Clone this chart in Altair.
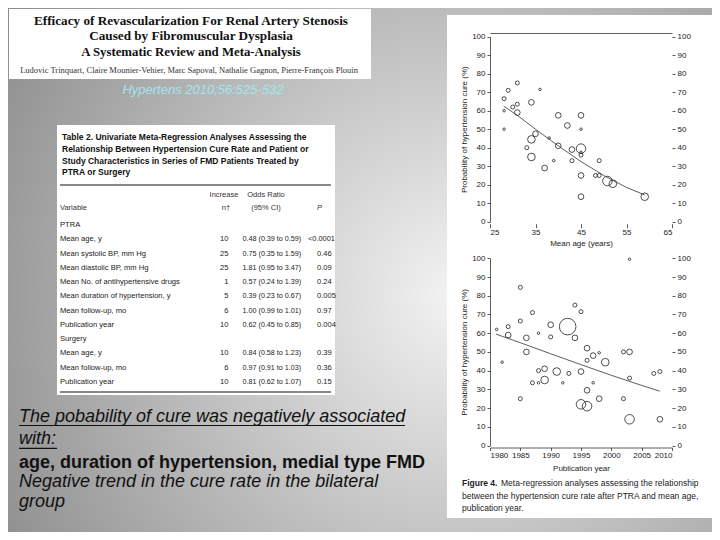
import altair as alt
import pandas as pd

W, H = 704, 524
# study weight classes (bubble area is proportional to weight)
T, S, M, L, XL, HG = 2, 5, 10, 18, 28, 85

# ---- Figure 4, top panel: mean age ----
age_x = [28.1, 29.0, 31.0, 31.0, 30.0, 28.1, 31.0, 28.1, 34.1, 36.0, 35.0, 34.1, 33.1, 34.1,
         38.0, 37.0, 39.0, 40.0, 40.0, 42.0, 43.0, 43.0, 45.0, 45.0, 45.0, 45.0, 45.0, 45.0,
         45.0, 49.0, 48.2, 49.0, 50.8, 52.0, 59.0]
age_y = [66.5, 71.0, 75.0, 63.5, 62.0, 60.0, 59.0, 50.0, 64.5, 71.5, 47.5, 44.5, 40.0, 35.0,
         45.2, 29.0, 33.0, 57.5, 41.0, 52.0, 39.0, 33.0, 57.5, 50.0, 39.5, 36.0, 37.5, 25.0,
         13.5, 33.0, 25.0, 25.0, 22.0, 20.5, 13.5]
age_w = [S, S, S, S, S, T, M, T, M, T, M, L, S, L, T, M, T, M, M, M, M, S, M, T, XL, S, T, M,
         M, S, S, S, XL, L, L]
age_line_x = [28, 31, 35, 40, 45, 50, 55, 59]
age_line_y = [62.5, 57.5, 50.0, 41.0, 32.5, 25.0, 18.5, 14.5]
age_ticks = [25, 35, 45, 55, 65]

# ---- Figure 4, bottom panel: publication year ----
yr_x = [1981.1, 1982.0, 1983.0, 1983.0, 1985.0, 1985.0, 1985.0, 1987.0, 1986.0, 1986.0, 1988.0,
        1988.0, 1989.0, 1989.0, 1987.0, 1988.0, 1990.0, 1990.0, 1991.0, 1992.0, 1993.0, 1992.8,
        1994.0, 1994.0, 1995.0, 1995.0, 1995.0, 2003.0, 1996.0, 1997.0, 1998.0, 1996.0, 1999.0,
        1997.0, 1996.0, 1996.0, 1998.0, 2002.0, 2003.0, 2003.0, 2002.0, 2003.0, 2007.0, 2008.0,
        2008.0]
yr_y = [62, 44.5, 63.5, 59, 84.5, 66.5, 25, 71, 57.5, 50, 60, 40, 41, 35, 33.5, 33.5, 64.5, 58,
        39.5, 33.5, 38.5, 63.5, 75, 57.5, 71.5, 39.5, 22, 99.5, 52, 48, 49.5, 45.5, 44.5, 33.5,
        29.5, 21, 25, 50, 50, 36, 25, 14, 38.5, 39.5, 14]
yr_w = [T, T, S, M, S, S, S, S, M, M, T, S, M, L, S, T, M, S, L, T, S, HG, S, M, S, M, XL, T, M,
        M, T, S, L, T, M, XL, M, S, M, S, S, XL, S, S, M]
yr_line_x = [1981, 1985, 1990, 1995, 2000, 2005, 2008]
yr_line_y = [59.5, 54.9, 49.0, 43.2, 37.5, 32.1, 29.0]
yr_ticks = [1980, 1985, 1990, 1995, 2000, 2005, 2010]
cure_ticks = [0, 10, 20, 30, 40, 50, 60, 70, 80, 90, 100]

# ---- Table 2 ----
tbl_var = ["PTRA", "Mean age, y", "Mean systolic BP, mm Hg", "Mean diastolic BP, mm Hg",
           "Mean No. of antihypertensive drugs", "Mean duration of hypertension, y",
           "Mean follow-up, mo", "Publication year", "Surgery", "Mean age, y",
           "Mean follow-up, mo", "Publication year"]
tbl_inc = ["", "10", "25", "25", "1", "5", "6", "10", "", "10", "6", "10"]
tbl_or = ["", "0.48 (0.39 to 0.59)", "0.75 (0.35 to 1.59)", "1.81 (0.95 to 3.47)",
          "0.57 (0.24 to 1.39)", "0.39 (0.23 to 0.67)", "1.00 (0.99 to 1.01)",
          "0.62 (0.45 to 0.85)", "", "0.84 (0.58 to 1.23)", "0.97 (0.91 to 1.03)",
          "0.81 (0.62 to 1.07)"]
tbl_p = ["", "<0.0001", "0.46", "0.09", "0.24", "0.005", "0.97", "0.004", "", "0.39", "0.36", "0.15"]
tbl_title = ["Table 2.   Univariate Meta-Regression Analyses Assessing the",
             "Relationship Between Hypertension Cure Rate and Patient or",
             "Study Characteristics in Series of FMD Patients Treated by",
             "PTRA or Surgery"]

paper_title = ["Efficacy of Revascularization For Renal Artery Stenosis",
               "Caused by Fibromuscular Dysplasia",
               "A Systematic Review and Meta-Analysis"]
authors = "Ludovic Trinquart, Claire Mounier-Vehier, Marc Sapoval, Nathalie Gagnon, Pierre-François Plouin"
citation = "Hypertens 2010;56:525-532"
bullets = ["The pobability of cure was negatively associated", "with:",
           "age, duration of hypertension, medial type FMD",
           "Negative trend in the cure rate in the bilateral", "group"]
caption = ["Meta-regression analyses assessing the relationship",
           "between the hypertension cure rate after PTRA and mean age,",
           "publication year."]

SANS = "Liberation Sans, Arial, sans-serif"
SERIF = "Liberation Serif, Times New Roman, serif"
NARROW = "Liberation Sans Narrow, Liberation Sans, sans-serif"

one = pd.DataFrame({"k": [0]})


def rect(x, x2, y, y2, **kw):
    return alt.Chart(one).mark_rect(**kw).encode(
        x=alt.value(x), x2=alt.value(x2), y=alt.value(y), y2=alt.value(y2))


def text(s, x, y, size, font=SANS, align="left", baseline="middle", color="#111", **kw):
    return alt.Chart(one).mark_text(text=s, font=font, fontSize=size, align=align,
                                    baseline=baseline, color=color, **kw).encode(
        x=alt.value(x), y=alt.value(y))


def hrule(x, x2, y, color="#111", width=1.0):
    return alt.Chart(one).mark_rule(color=color, strokeWidth=width).encode(
        x=alt.value(x), x2=alt.value(x2), y=alt.value(y))


layers = []

# slide background
grad = alt.RadialGradient(gradient="radial", x1=0.62, y1=0.53, x2=0.62, y2=0.53, r1=0, r2=0.7,
                          stops=[alt.GradientStop(offset=0, color="#f3f3f3"),
                                 alt.GradientStop(offset=1, color="#848484")])
layers.append(rect(0, W, -150, H + 150, fill=grad))

# paper title box
layers.append(rect(1, 363, 1, 71, fill="white"))
layers.append(text(paper_title[0], 183, 13, 13.2, font=SERIF, align="center", fontWeight="bold"))
layers.append(text(paper_title[1], 183, 27.5, 13.2, font=SERIF, align="center", fontWeight="bold"))
layers.append(text(paper_title[2], 183, 43.5, 12.8, font=SERIF, align="center", fontWeight="bold"))
layers.append(text(authors, 181, 62, 8.5, font=SERIF, align="center", color="#333"))
layers.append(text(citation, 195, 82, 13, align="center", fontStyle="italic", color="#a3e5f0"))

# table box
layers.append(rect(49, 327, 117, 387, fill="white"))
for i, t in enumerate(tbl_title):
    layers.append(text(t, 54, 129 + 11.8 * i, 8.5, font=NARROW, fontWeight="bold", color="#111"))
layers.append(hrule(52, 323, 177, width=1.2))
layers.append(hrule(52, 323, 384, width=1.2))
HS = 7.5
layers.append(text("Increase", 216, 187, HS, font=NARROW, align="center", color="#333"))
layers.append(text("Odds Ratio", 258, 187, HS, font=NARROW, align="center", color="#333"))
layers.append(text("Variable", 52, 200, HS, font=NARROW, color="#333"))
layers.append(text("n†", 218, 200, HS, font=NARROW, align="center", color="#333"))
layers.append(text("(95% CI)", 258, 200, HS, font=NARROW, align="center", color="#333"))
layers.append(text("P", 309, 200, HS, font=NARROW, fontStyle="italic", color="#333"))

tbl = pd.DataFrame({"row": list(range(len(tbl_var))), "var": tbl_var, "inc": tbl_inc,
                    "orci": tbl_or, "p": tbl_p})
row_scale = alt.Scale(domain=[0, len(tbl_var) - 1], range=[217, 374], nice=False, zero=False)


def col(field, x, align, size=7.6, flt=None):
    c = alt.Chart(tbl)
    if flt:
        c = c.transform_filter(flt)
    return c.mark_text(font=NARROW, fontSize=size, align=align, baseline="middle",
                       color="#222").encode(
        x=alt.value(x), y=alt.Y("row:Q", scale=row_scale, axis=None), text=alt.Text(f"{field}:N"))


layers.append(col("var", 52, "left"))
layers.append(col("inc", 220.5, "right"))
layers.append(col("orci", 234.5, "left", size=7.2))
layers.append(col("p", 309, "left", flt="indexof(datum.p, '<') != 0"))
layers.append(col("p", 300, "left", size=7.4, flt="indexof(datum.p, '<') == 0"))

# bullet text
layers.append(text(bullets[0], 11, 413.7, 18, baseline="alphabetic", fontStyle="italic"))
layers.append(hrule(11, 397, 417.5, width=1.2))
layers.append(text(bullets[1], 11, 436.3, 18, baseline="alphabetic", fontStyle="italic"))
layers.append(hrule(11, 49, 440.3, width=1.2))
layers.append(text(bullets[2], 11, 460, 18, baseline="alphabetic", fontWeight="bold"))
layers.append(text(bullets[3], 11, 478.5, 18, baseline="alphabetic", fontStyle="italic"))
layers.append(text(bullets[4], 11, 498.5, 18, baseline="alphabetic", fontStyle="italic"))

# figure panel
layers.append(rect(439, 704, 7, 510, fill="white"))
layers.append(text("Figure 4.", 454, 475, 8.5, fontWeight="bold", color="#222"))
layers.append(text(caption[0], 493, 475, 8.5, color="#222"))
layers.append(text(caption[1], 454, 487.5, 8.5, color="#222"))
layers.append(text(caption[2], 454, 500, 8.5, color="#222"))

AX = dict(labelFont=SANS, labelFontSize=8, labelColor="#222", titleFont=SANS, titleFontSize=8,
          titleFontWeight="normal", titleColor="#222", tickColor="#333", domainColor="#333",
          grid=False, tickWidth=0.8, domainWidth=0.8, zindex=1)
size_scale = alt.Scale(domain=[0, 85], range=[0, 276])
PT = dict(shape="circle", filled=False, color="#222", strokeWidth=0.8, opacity=1)

# top scatter
xs_age = alt.Scale(domain=[25, 65], range=[482, 664], nice=False, zero=False)
ys_age = alt.Scale(domain=[0, 100], range=[213.7, 28.7], nice=False, zero=False)
age_df = pd.DataFrame({"age": age_x, "cure": age_y, "w": age_w})
age_line = pd.DataFrame({"age": age_line_x, "cure": age_line_y})
layers.append(alt.Chart(age_df).mark_point(**PT).encode(
    x=alt.X("age:Q", scale=xs_age, axis=alt.Axis(orient="bottom", offset=215.7 - H, values=age_ticks,
            domain=False, tickSize=4, labelPadding=1, title="Mean age (years)", titlePadding=3, **AX)),
    y=alt.Y("cure:Q", scale=ys_age, axis=alt.Axis(orient="left", offset=-482, values=cure_ticks,
            tickSize=3, labelPadding=2, title="Probability of hypertension cure (%)",
            titlePadding=3, **AX)),
    size=alt.Size("w:Q", scale=size_scale, legend=None)))
layers.append(alt.Chart(age_line).mark_line(color="#333", strokeWidth=0.8).encode(
    x=alt.X("age:Q", scale=xs_age, axis=alt.Axis(orient="top", offset=-25, ticks=False,
            labels=False, title=None, **AX)),
    y=alt.Y("cure:Q", scale=ys_age, axis=alt.Axis(orient="right", offset=-40, values=cure_ticks,
            domain=False, tickSize=3, labelPadding=2, title=None, **AX))))

# bottom scatter
xs_yr = alt.Scale(domain=[1980, 2010], range=[482, 664], nice=False, zero=False)
ys_yr = alt.Scale(domain=[0, 100], range=[437.5, 250.3], nice=False, zero=False)
yr_df = pd.DataFrame({"year": yr_x, "cure": yr_y, "w": yr_w})
yr_line = pd.DataFrame({"year": yr_line_x, "cure": yr_line_y})
layers.append(alt.Chart(yr_df).mark_point(**PT).encode(
    x=alt.X("year:Q", scale=xs_yr, axis=alt.Axis(orient="bottom", offset=439.5 - H, values=yr_ticks,
            format="d", tickSize=3, labelPadding=1, title="Publication year", titlePadding=5, **AX)),
    y=alt.Y("cure:Q", scale=ys_yr, axis=alt.Axis(orient="left", offset=-482, values=cure_ticks,
            tickSize=3, labelPadding=2, title="Probability of hypertension cure (%)",
            titlePadding=3, **AX)),
    size=alt.Size("w:Q", scale=size_scale, legend=None)))
layers.append(alt.Chart(yr_line).mark_line(color="#333", strokeWidth=0.8).encode(
    x=alt.X("year:Q", scale=xs_yr, axis=None),
    y=alt.Y("cure:Q", scale=ys_yr, axis=alt.Axis(orient="right", offset=-40, values=cure_ticks,
            domain=False, tickSize=3, labelPadding=2, title=None, **AX))))

chart = alt.layer(*layers).properties(
    width=W, height=H, padding=0, background="white",
    autosize=alt.AutoSizeParams(type="none"),
).resolve_scale(x="independent", y="independent", size="independent").configure_view(strokeWidth=0)

chart.save("out.html", embed_options={"renderer": "svg", "actions": False})
